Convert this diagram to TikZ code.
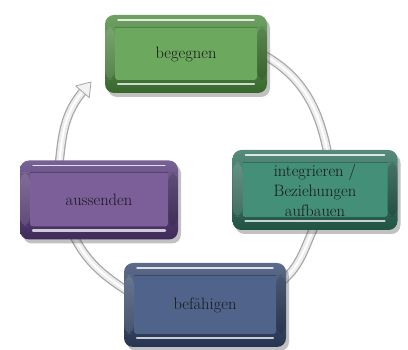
\documentclass[tikz,border=0pt]{standalone}
\usepackage{fontspec}
\setmainfont{Latin Modern Roman}
\usetikzlibrary{calc,shadows,backgrounds}
\definecolor{gRim}{HTML}{4A8A3C}
\definecolor{gFace}{HTML}{6CA85E}
\definecolor{tRim}{HTML}{2C6E5A}
\definecolor{tFace}{HTML}{438F78}
\definecolor{bRim}{HTML}{33466C}
\definecolor{bFace}{HTML}{50638B}
\definecolor{pRim}{HTML}{56397A}
\definecolor{pFace}{HTML}{7C5E99}
\tikzset{
  card/.style 2 args={rounded corners=9pt, top color=#1!80!white, bottom color=#1!75!black,
    drop shadow={shadow xshift=3pt, shadow yshift=-4pt, opacity=.35, fill=black!70},
    align=center, text=black!90, font=\fontsize{16.5}{20}\selectfont,
    path picture={
      \fill[#2, rounded corners=3pt] ($(path picture bounding box.north west)+(10pt,-12pt)$) rectangle ($(path picture bounding box.south east)+(-10pt,13pt)$);
      \draw[#1!70!black, opacity=.5, line width=.6pt] ($(path picture bounding box.north west)+(10pt,-12pt)$) -- ($(path picture bounding box.north east)+(-10pt,-12pt)$);
      \draw[white, opacity=.8, line width=1.4pt, line cap=round] ($(path picture bounding box.north west)+(13pt,-5pt)$) -- ($(path picture bounding box.north east)+(-13pt,-5pt)$);
      \draw[white, opacity=.75, line width=2.4pt, line cap=round] ($(path picture bounding box.south west)+(13pt,9pt)$) -- ($(path picture bounding box.south east)+(-13pt,9pt)$);
      \fill[black, opacity=.12] ($(path picture bounding box.north east)+(-10pt,-12pt)$) rectangle ($(path picture bounding box.south east)+(0pt,13pt)$);
      \fill[white, opacity=.12] ($(path picture bounding box.north west)+(0pt,-12pt)$) rectangle ($(path picture bounding box.south west)+(10pt,13pt)$);
    }},
  tube/.style={line width=9pt, draw=gray!70,
    postaction={draw=gray!15, line width=6.5pt},
    postaction={draw=white, line width=2pt}}
}
\begin{document}
\begin{tikzpicture}[x=1pt,y=1pt]
\useasboundingbox (0,0) rectangle (408,350);
% boxes
\node[card={gRim}{gFace}, minimum width=162pt, minimum height=78pt] (beg) at (186,296) {begegnen};
\node[card={tRim}{tFace}, minimum width=165pt, minimum height=80pt] (int) at (315,160) {integrieren /\\Beziehungen\\aufbauen};
\node[card={bRim}{bFace}, minimum width=162pt, minimum height=84pt] (bef) at (205,45) {befähigen};
\node[card={pRim}{pFace}, minimum width=158pt, minimum height=79pt] (aus) at (99,150) {aussenden};
% arrow tip of the cycle
\coordinate (tip) at (91,268);
\coordinate (abase) at ($(tip)+(229:10pt)$);
% connectors
\begin{scope}[on background layer]
\draw[tube] ([xshift=-5pt]beg.east) to[out=-29, in=101] ([xshift=13pt,yshift=-5pt]int.north);
\draw[tube] ([yshift=5pt]int.south) to[out=-115, in=40] ([xshift=-5pt,yshift=23pt]bef.east);
\draw[tube] ([xshift=5pt,yshift=13pt]bef.west) to[out=147, in=-63] ([xshift=-26pt,yshift=5pt]aus.south);
\draw[tube] ([xshift=-40pt,yshift=-5pt]aus.north) to[out=84, in=-131] (abase);
\draw[shift={(tip)}, rotate=49, fill=gray!10, draw=gray!70, line width=.8pt, line join=round]
  (0,0) -- (-13,9) -- (-13,-9) -- cycle;
\end{scope}
\end{tikzpicture}
\end{document}
